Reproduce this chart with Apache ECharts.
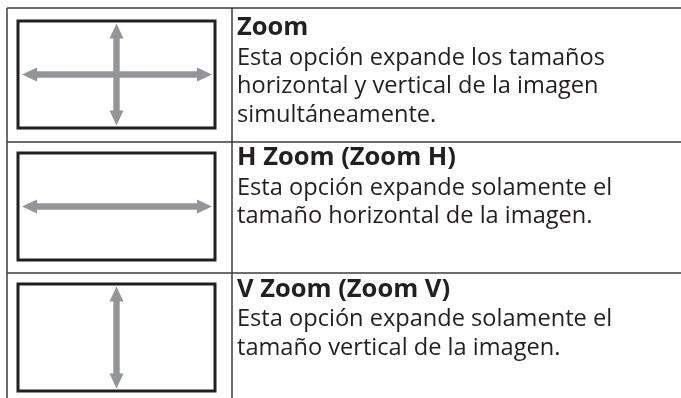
<!DOCTYPE html>
<html>
<head>
<meta charset="utf-8">
<script src="https://cdn.jsdelivr.net/npm/echarts@6/dist/echarts.min.js"></script>
<style>html,body{margin:0;padding:0;background:#fff}#c{width:681px;height:398px}</style>
</head>
<body>
<div id="c"></div>
<script>
// ---- content ----
const rowTitles = ['Zoom', 'H Zoom (Zoom H)', 'V Zoom (Zoom V)'];
const rowLines = [
  ['Esta opción expande los tamaños', 'horizontal y vertical de la imagen', 'simultáneamente.'],
  ['Esta opción expande solamente el', 'tamaño horizontal de la imagen.'],
  ['Esta opción expande solamente el', 'tamaño vertical de la imagen.']
];
const rowArrows = [['h', 'v'], ['h'], ['v']];

// ---- layout ----
const W = 681, H = 398;
const L = { left: 7, top: 8, divider: 232, rowTops: [8, 142, 273] };
const textX = 237;
const titleBaseline = [38, 168, 299.5];
const firstGap = 29, lineGap = 28.5;
const TITLE_FS = 25.5, BODY_FS = 23.6;
const MID = 0.388; // canvas 'middle' offset above baseline (em)
const FONT = '"Open Sans", "Noto Sans", sans-serif';

const chart = echarts.init(document.getElementById('c'), null, { renderer: 'canvas' });
const els = [];
const lineStyle = { stroke: '#3c3c3c', lineWidth: 1.5 };

// table border
els.push({ type: 'line', shape: { x1: L.left, y1: L.top, x2: W, y2: L.top }, style: lineStyle });
els.push({ type: 'line', shape: { x1: L.left, y1: L.top, x2: L.left, y2: H }, style: lineStyle });
els.push({ type: 'line', shape: { x1: L.divider, y1: L.top, x2: L.divider, y2: H }, style: lineStyle });
L.rowTops.slice(1).forEach(y => {
  els.push({ type: 'line', shape: { x1: L.left, y1: y, x2: W, y2: y }, style: lineStyle });
});

function arrow(x1, y1, x2, y2) {
  const dx = x2 - x1, dy = y2 - y1, len = Math.hypot(dx, dy);
  const ux = dx / len, uy = dy / len, nx = -uy, ny = ux;
  const hl = 15, hw = 7, sw = 3.2;
  const P = (t, n) => [x1 + ux * t + nx * n, y1 + uy * t + ny * n];
  return {
    type: 'polygon',
    shape: { points: [P(0, 0), P(hl, hw), P(hl, sw), P(len - hl, sw), P(len - hl, hw), P(len, 0),
                      P(len - hl, -hw), P(len - hl, -sw), P(hl, -sw), P(hl, -hw)] },
    style: { fill: '#939598' }
  };
}

rowTitles.forEach((title, i) => {
  const top = L.rowTops[i];
  const boxTop = top + (i === 0 ? 13 : 11);
  const bx = 18, bw = 197, bh = 107;
  els.push({ type: 'rect', shape: { x: bx, y: boxTop, width: bw, height: bh },
    style: { fill: '#fff', stroke: '#231f20', lineWidth: 3 } });
  const cx = bx + bw / 2, cy = boxTop + bh / 2;
  rowArrows[i].forEach(a => {
    if (a === 'h') els.push(arrow(bx + 4, cy, bx + bw - 3, cy));
    else els.push(arrow(cx, boxTop + 2.5, cx, boxTop + bh - 2.5));
  });
  const tb = titleBaseline[i];
  els.push({ type: 'text', x: textX, y: tb - MID * TITLE_FS,
    style: { text: title, font: 'bold ' + TITLE_FS + 'px ' + FONT, fill: '#231f20', verticalAlign: 'middle' } });
  rowLines[i].forEach((t, j) => {
    const b = tb + firstGap + lineGap * j;
    els.push({ type: 'text', x: textX, y: b - MID * BODY_FS,
      style: { text: t, font: BODY_FS + 'px ' + FONT, fill: '#231f20', verticalAlign: 'middle' } });
  });
});

chart.setOption({ animation: false, graphic: { elements: els } });
</script>
</body>
</html>
